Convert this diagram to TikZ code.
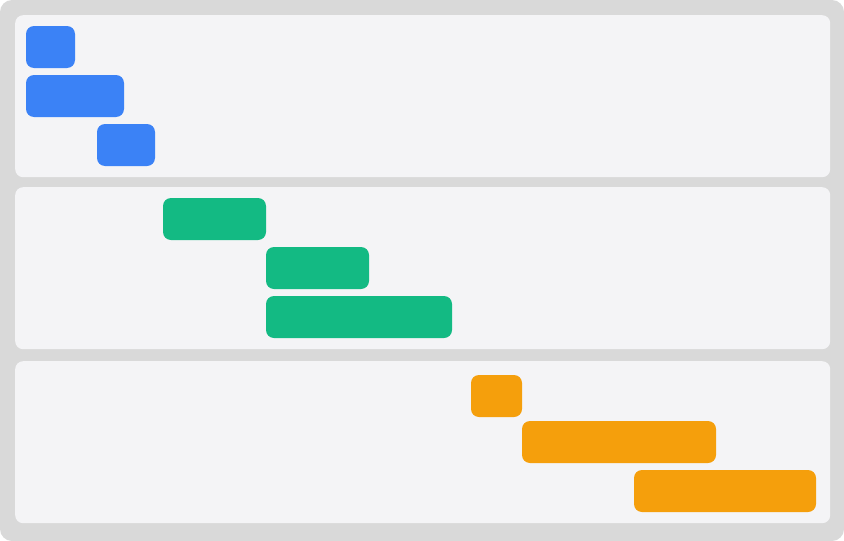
\documentclass[tikz,border=0pt]{standalone}
\definecolor{bgcol}{HTML}{D9D9D9}
\definecolor{panelcol}{HTML}{F4F4F6}
\definecolor{bluecol}{HTML}{3B82F6}
\definecolor{greencol}{HTML}{13BA83}
\definecolor{orangecol}{HTML}{F59F0C}
\tikzset{
  panel/.style={fill=panelcol, draw=none, rounded corners=8pt},
  bar/.style={draw=none, rounded corners=8pt, inner sep=0pt, outer sep=0pt},
  bluebar/.style={bar, fill=bluecol},
  greenbar/.style={bar, fill=greencol},
  orangebar/.style={bar, fill=orangecol},
}
\newcommand{\ganttbar}[6]{% style, name, x1, y1, x2, y2
  \node[#1, anchor=north west, minimum width={(#5-#3)*1pt}, minimum height={(#6-#4)*1pt}] (#2) at (#3,#4) {};}
\begin{document}
\begin{tikzpicture}[x=1pt,y=-1pt]
\useasboundingbox (0,0) rectangle (844,541);
\fill[bgcol, rounded corners=12pt] (0,0) rectangle (844,541);
\node[panel, anchor=north west, minimum width=815pt, minimum height=162pt, inner sep=0pt] (p1) at (15,15) {};
\node[panel, anchor=north west, minimum width=815pt, minimum height=162pt, inner sep=0pt] (p2) at (15,187) {};
\node[panel, anchor=north west, minimum width=815pt, minimum height=162pt, inner sep=0pt] (p3) at (15,361) {};
\ganttbar{bluebar}{b1}{26}{26}{75}{68}
\ganttbar{bluebar}{b2}{26}{75}{124}{117}
\ganttbar{bluebar}{b3}{97}{124}{155}{166}
\ganttbar{greenbar}{g1}{163}{198}{266}{240}
\ganttbar{greenbar}{g2}{266}{247}{369}{289}
\ganttbar{greenbar}{g3}{266}{296}{452}{338}
\ganttbar{orangebar}{o1}{471}{375}{522}{417}
\ganttbar{orangebar}{o2}{522}{421}{716}{463}
\ganttbar{orangebar}{o3}{634}{470}{816}{512}
\end{tikzpicture}
\end{document}
